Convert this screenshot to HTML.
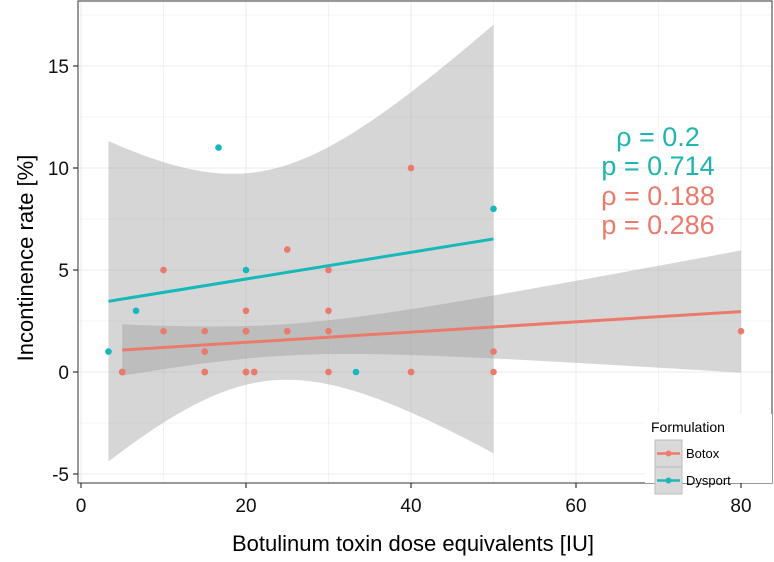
<!DOCTYPE html>
<html><head><meta charset="utf-8"><style>
html,body{margin:0;padding:0;background:#fff;}
svg text{font-family:"Liberation Sans",Arial,sans-serif;}
</style></head><body>
<svg id="chart" width="774" height="557" viewBox="0 0 774 557" xmlns="http://www.w3.org/2000/svg">
<rect x="78" y="1" width="694" height="482" fill="#fff"/>
<g id="grid"></g>
<g id="ribbons"></g>
<g id="lines"></g>
<g id="points"></g>
<rect x="78" y="1" width="694" height="482" fill="none" stroke="#555" stroke-width="1.2"/>
<g id="axes"></g>
<g font-size="27" text-anchor="middle">
<text x="658" y="146" fill="#1fb5ae">ρ = 0.2</text>
<text x="658" y="175" fill="#1fb5ae">p = 0.714</text>
<text x="658" y="205" fill="#ec7a6c">ρ = 0.188</text>
<text x="658" y="234" fill="#ec7a6c">p = 0.286</text>
</g>
<g>
<rect x="645" y="414" width="127" height="69" fill="#fff"/>
<text x="651" y="432" font-size="14" fill="#000">Formulation</text>
<g>
<rect x="655" y="440" width="27" height="27" fill="#d9d9d9" stroke="#bbb"/>
<line x1="657" y1="453.5" x2="680" y2="453.5" stroke="#f07b6e" stroke-width="2.5"/>
<circle cx="668.5" cy="453.5" r="3" fill="#f07b6e"/>
<text x="686" y="458" font-size="13" fill="#000">Botox</text>
</g>
<g>
<rect x="655" y="467" width="27" height="27" fill="#d9d9d9" stroke="#bbb"/>
<line x1="657" y1="480.5" x2="680" y2="480.5" stroke="#1fb8b8" stroke-width="2.5"/>
<circle cx="668.5" cy="480.5" r="3" fill="#1fb8b8"/>
<text x="686" y="485" font-size="13" fill="#000">Dysport</text>
</g>
</g>
<text transform="translate(33,258) rotate(-90)" text-anchor="middle" font-size="22">Incontinence rate [%]</text>
<text x="413" y="551" text-anchor="middle" font-size="22">Botulinum toxin dose equivalents [IU]</text>
</svg>
<script>
const botoxX = [5,10,10,15,15,15,20,20,20,20,21,25,25,30,30,30,30,40,40,50,50,80,5,5,15,15,20,20,21,15,20,20,25,40];
const botoxY = [0,5,2,2,1,0,3,2,0,0,0,6,2,5,3,2,0,10,0,1,0,2,0,0,0,0,0,0,0,1,2,2,2,0];
const dysportX = [3.33,6.67,16.67,20,33.33,50];
const dysportY = [1,3,11,5,0,8];
const xTicks = [0,20,40,60,80];
const yTicks = [-5,0,5,10,15];
const tCrit = {4:2.776,5:2.571,30:2.042,31:2.040,32:2.037,33:2.035};

const NS='http://www.w3.org/2000/svg';
const sx = v => 81 + v*8.25;
const sy = v => 372 - v*20.4;
function mk(tag, attrs, parent){const e=document.createElementNS(NS,tag);for(const k in attrs)e.setAttribute(k,attrs[k]);document.getElementById(parent).appendChild(e);return e;}

for(let v=0; v<=90; v+=10){const x=sx(v); if(x>772)continue;
 const g=mk('line',{x1:x,x2:x,y1:1,y2:483,stroke:'#ebebeb','stroke-width':v%20===0?1:0.6},'grid');
 
 }
for(let v=-5; v<=17.5; v+=2.5){const y=sy(v); if(y<1)continue;
 const g=mk('line',{x1:78,x2:772,y1:y,y2:y,stroke:'#ebebeb','stroke-width':v%5===0?1:0.6},'grid');
 
 }

function fit(X,Y){const n=X.length;const mx=X.reduce((a,b)=>a+b)/n,my=Y.reduce((a,b)=>a+b)/n;
 let sxx=0,sxy=0;for(let i=0;i<n;i++){sxx+=(X[i]-mx)**2;sxy+=(X[i]-mx)*(Y[i]-my);}
 const b=sxy/sxx,a=my-b*mx;let sse=0;for(let i=0;i<n;i++)sse+=(Y[i]-a-b*X[i])**2;
 const s=Math.sqrt(sse/(n-2));return {a,b,mx,sxx,s,n,t:tCrit[n-2]||2.0,min:Math.min(...X),max:Math.max(...X)};}

function series(X,Y,color,name){
 const f=fit(X,Y);const up=[],lo=[];
 for(let i=0;i<=80;i++){const x=f.min+(f.max-f.min)*i/80;const yh=f.a+f.b*x;
  const se=f.s*Math.sqrt(1/f.n+(x-f.mx)**2/f.sxx);up.push([sx(x),sy(yh+f.t*se)]);lo.push([sx(x),sy(yh-f.t*se)]);}
 const pts=up.concat(lo.reverse()).map(p=>p.join(',')).join(' ');
 const r=mk('polygon',{points:pts,fill:'#999','fill-opacity':0.4},'ribbons');
 
 
 const l=mk('line',{x1:sx(f.min),y1:sy(f.a+f.b*f.min),x2:sx(f.max),y2:sy(f.a+f.b*f.max),stroke:color,'stroke-width':3},'lines');
 
 
 for(let i=0;i<X.length;i++){const c=mk('circle',{cx:sx(X[i]),cy:sy(Y[i]),r:3.3,fill:color},'points');
  
  }
}
series(botoxX,botoxY,'#ea7a6c','botox');
series(dysportX,dysportY,'#15b9b9','dysport');

for(const v of xTicks){const x=sx(v);
 const t=mk('line',{x1:x,x2:x,y1:483,y2:488,stroke:'#333','stroke-width':1.2},'axes');
 
 
 const l=mk('text',{x:x,y:512,'text-anchor':'middle','font-size':19,fill:'#111'},'axes');l.textContent=v;
 
 }
for(const v of yTicks){const y=sy(v);
 const t=mk('line',{x1:73,x2:78,y1:y,y2:y,stroke:'#333','stroke-width':1.2},'axes');
 
 
 const l=mk('text',{x:69,y:y+7,'text-anchor':'end','font-size':19,fill:'#111'},'axes');l.textContent=v;
 
 }
</script>
</body></html>
